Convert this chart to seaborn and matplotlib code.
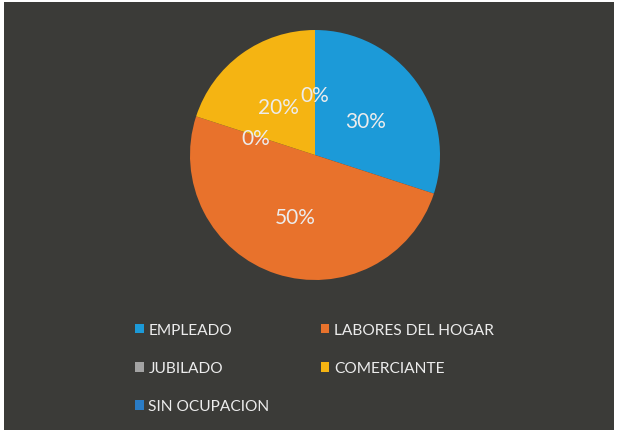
import matplotlib.pyplot as plt
from matplotlib.patches import Patch, Rectangle
import seaborn as sns
import numpy as np

# datos de la grafica
categorias = ['EMPLEADO', 'LABORES DEL HOGAR', 'JUBILADO', 'COMERCIANTE', 'SIN OCUPACION']
porcentajes = [30, 50, 0, 20, 0]
colores = ['#1c9ad8', '#e8722c', '#a3a3a3', '#f5b412', '#2a7cc6']

sns.set_style('white')
plt.rcParams['font.family'] = ['Lato', 'DejaVu Sans']

fondo = '#3b3b38'
texto = '#ececec'

fig = plt.figure(figsize=(6.18, 4.35), dpi=100)
fig.patch.set_facecolor('white')
fig.patches.append(Rectangle((4 / 618, 4 / 435), 610 / 618, 428 / 435,
                             transform=fig.transFigure, facecolor=fondo,
                             edgecolor='none', zorder=-5))

ax = fig.add_axes([190 / 618, (435 - 281) / 435, 250 / 618, 250 / 435])
ax.set_zorder(2)
ax.set_facecolor('none')
wedges, _ = ax.pie(porcentajes, colors=colores, startangle=90, counterclock=False,
                   radius=1, wedgeprops=dict(linewidth=0))

# etiquetas de porcentaje en el punto medio de cada sector
total = sum(porcentajes)
inicio = 90
for v in porcentajes:
    ang = np.deg2rad(inicio - 360 * v / total / 2)
    ax.text(0.5 * np.cos(ang), 0.5 * np.sin(ang) - 0.02, f'{v}%', ha='center', va='center',
            color=texto, fontsize=15)
    inicio -= 360 * v / total
ax.set_xlim(-1, 1)
ax.set_ylim(-1, 1)
ax.set_aspect('equal')
ax.axis('off')

# leyenda en filas: orden columna por columna
orden = [0, 2, 4, 1, 3]
handles = [Patch(facecolor=colores[i], edgecolor='none') for i in orden]
labels = [categorias[i] for i in orden]
leg = fig.legend(handles, labels, ncol=2, loc='upper left',
                 bbox_to_anchor=(129 / 618, (435 - 318) / 435),
                 frameon=False, fontsize=11.2, handlelength=0.55, handleheight=0.55,
                 handletextpad=0.3, columnspacing=3.3, labelspacing=1.55,
                 borderaxespad=0)
for t in leg.get_texts():
    t.set_color(texto)

fig.savefig('out.png', dpi=100, facecolor=fig.get_facecolor())
plt.close(fig)
